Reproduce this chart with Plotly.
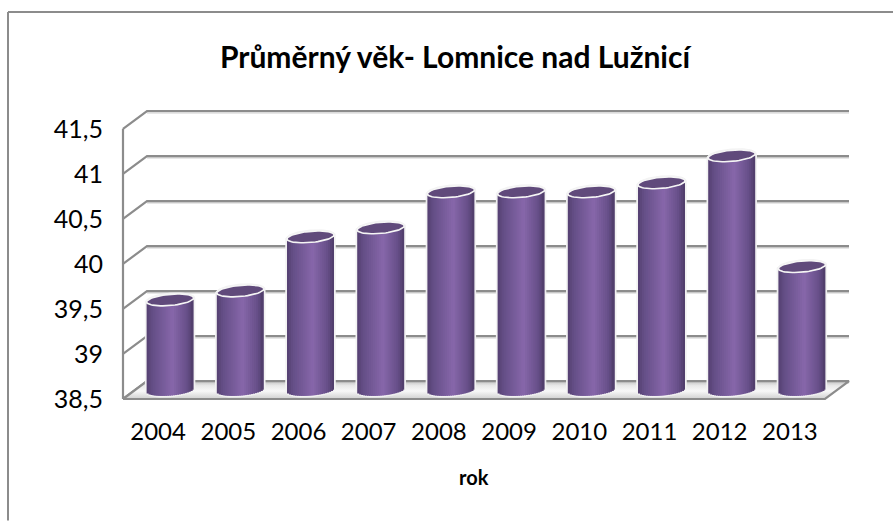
import math
import plotly.graph_objects as go

# ---- data ----
title_text = "Průměrný věk- Lomnice nad Lužnicí"
x_title = "rok"
years = [2004, 2005, 2006, 2007, 2008, 2009, 2010, 2011, 2012, 2013]
values = [39.5, 39.6, 40.2, 40.3, 40.7, 40.7, 40.7, 40.8, 41.1, 39.87]
y_ticks = [38.5, 39, 39.5, 40, 40.5, 41, 41.5]
y_tick_labels = ["38,5", "39", "39,5", "40", "40,5", "41", "41,5"]

# ---- geometry (pixels of the figure) ----
W, H = 893, 521
L, R, T, B = 123, 825, 129, 399.5          # front frame of the 3D box
DX, DY = 24, 17.8                          # depth of the box
PAD = 3
UX = (years[-1] - years[0] + 1) / (R - L)   # data units per px
UY = (y_ticks[-1] - y_ticks[0]) / (B - T)
DEPTH_X, DEPTH_Y = DX * UX, DY * UY
BAR_DX = 12 * UX
BASE_Y = y_ticks[0] + 9 * UY
A, Bb, TILT = 23.5, 5.6, 2.0                # cylinder half width, ellipse half height, tilt
N = 24
GRID = "#8c8c8c"
SHADOW = "#cfcfcf"
FONT = "Lato"
PL, PR, PT, PB = L - PAD, R + DX + PAD, T - DY - PAD, B + PAD   # plot area

STOPS = [(0.0, (84, 64, 112)), (0.12, (100, 78, 134)), (0.55, (135, 103, 170)),
         (0.85, (104, 80, 138)), (1.0, (78, 60, 104))]


def shade(f):
    for (f0, c0), (f1, c1) in zip(STOPS, STOPS[1:]):
        if f <= f1:
            k = (f - f0) / (f1 - f0)
            return "rgb(%d,%d,%d)" % tuple(round(a + (b - a) * k) for a, b in zip(c0, c1))
    return "rgb(%d,%d,%d)" % STOPS[-1][1]


def ellipse(cx, cy, rim=0.0, t0=0, t1=2 * math.pi, n=60):
    xs, ys = [], []
    for k in range(n + 1):
        t = t0 + (t1 - t0) * k / n
        c, s = math.cos(t), math.sin(t)
        xs.append(cx + (A + rim) * c * UX)
        ys.append(cy + (TILT * c + (Bb + rim) * s) * UY)
    return xs, ys


def px(x):
    return (x - PL) / (PR - PL)


def py(y):
    return (PB - y) / (PB - PT)


fig = go.Figure()

x0, x1 = years[0] - 0.5, years[-1] + 0.5
y0 = y_ticks[0]

# back wall grid shadow + grid + depth connectors
for v in y_ticks:
    fig.add_trace(go.Scatter(
        x=[x0 + DEPTH_X, x1 + DEPTH_X], y=[v + DEPTH_Y - 1.8 * UY] * 2,
        mode="lines", line=dict(color=SHADOW, width=1.2), hoverinfo="skip", showlegend=False))
for v in y_ticks:
    fig.add_trace(go.Scatter(
        x=[x0, x0 + DEPTH_X, x1 + DEPTH_X], y=[v, v + DEPTH_Y, v + DEPTH_Y],
        mode="lines", line=dict(color=GRID, width=2.2), hoverinfo="skip", showlegend=False))

# floor
fig.add_trace(go.Scatter(
    x=[x0, x1, x1 + DEPTH_X, x0 + DEPTH_X, x0],
    y=[y0, y0, y0 + DEPTH_Y, y0 + DEPTH_Y, y0],
    mode="lines", line=dict(color=GRID, width=2.2), fill="toself",
    fillgradient=dict(type="vertical", colorscale=[[0, "#d0d0d0"], [0.45, "#f8f8f8"], [0.75, "#e8e8e8"], [1, "#c4c4c4"]]),
    hoverinfo="skip", showlegend=False))

# front left edge of the box
fig.add_trace(go.Scatter(
    x=[x0, x0], y=[y_ticks[0], y_ticks[-1]], mode="lines",
    line=dict(color=GRID, width=2.2), hoverinfo="skip", showlegend=False))

# white silhouettes behind the cylinders
for yr, v in zip(years, values):
    cx = yr + BAR_DX
    top = BASE_Y + v - y0
    xa, ya = ellipse(cx, BASE_Y, 1.2, math.pi, 2 * math.pi)
    xb, yb = ellipse(cx, top, 1.2, 0, math.pi)
    fig.add_trace(go.Scatter(
        x=xa + xb + xa[:1], y=ya + yb + ya[:1], mode="lines",
        line=dict(color="#f2f2f2", width=1), fill="toself", fillcolor="#f2f2f2",
        hoverinfo="skip", showlegend=False))

# cylinder bodies: real bars, split in vertical strips for the shading
sw = 2 * A / N
for j in range(N):
    d = -A + (j + 0.5) * sw
    drop = Bb * math.sqrt(max(0, 1 - (d / A) ** 2)) - TILT * d / A
    base = [BASE_Y - drop * UY] * len(values)
    heights = [v - y0 for v in values]
    extra = 1.0 if j < N - 1 else 0.0
    fig.add_trace(go.Bar(
        x=years, y=heights, base=base,
        width=(sw + extra) * UX, offset=BAR_DX + (d - sw / 2) * UX,
        marker=dict(color=shade((j + 0.5) / N), line=dict(width=0)),
        xaxis="x2", yaxis="y2", hoverinfo="skip", showlegend=False))

# top caps
for yr, v in zip(years, values):
    xs, ys = ellipse(yr + BAR_DX, BASE_Y + v - y0)
    fig.add_trace(go.Scatter(
        x=xs, y=ys, mode="lines", line=dict(color="#f5f5f5", width=1.6),
        fill="toself", fillcolor="#604a7b",
        xaxis="x2", yaxis="y2",
        name=str(yr), hovertemplate="%{text}<extra></extra>",
        text=["%d: %s" % (yr, v)] * 61, showlegend=False))

axis_range_x = [x0 - PAD * UX, x1 + (DX + PAD) * UX]
axis_range_y = [y0 - PAD * UY, y_ticks[-1] + (DY + PAD) * UY]

fig.update_layout(
    width=W, height=H, autosize=False,
    margin=dict(l=PL, r=W - PR, t=PT, b=H - PB, pad=0),
    paper_bgcolor="white", plot_bgcolor="rgba(0,0,0,0)",
    barmode="overlay", showlegend=False,
    font=dict(family=FONT, color="black", size=24),
    title=dict(text="<b>%s</b>" % title_text, x=px(455), xanchor="center", xref="paper",
               y=1 - 57 / H, yanchor="middle", yref="container",
               font=dict(family=FONT, size=30, color="black")),
    xaxis=dict(range=axis_range_x, tickmode="array", tickvals=years, ticktext=[str(y) for y in years],
               showgrid=False, zeroline=False, showline=False,
               ticks="", ticklabelstandoff=13, tickfont=dict(family=FONT, size=24, color="black")),
    yaxis=dict(range=axis_range_y, tickmode="array", tickvals=y_ticks, ticktext=y_tick_labels,
               showgrid=False, zeroline=False, showline=False,
               ticks="", ticklabelstandoff=16, tickfont=dict(family=FONT, size=25, color="black")),
    xaxis2=dict(range=axis_range_x, overlaying="x", visible=False, matches="x"),
    yaxis2=dict(range=axis_range_y, overlaying="y", visible=False, matches="y"),
    annotations=[dict(text="<b>%s</b>" % x_title, xref="x", yref="paper",
                      x=(x0 + x1) / 2, y=py(478), xanchor="center", yanchor="middle",
                      showarrow=False, font=dict(family=FONT, size=20, color="black"))],
    shapes=[
        dict(type="line", xref="paper", yref="paper", x0=px(8), x1=px(W), y0=py(12), y1=py(12),
             line=dict(color=GRID, width=2)),
        dict(type="line", xref="paper", yref="paper", x0=px(8), x1=px(8), y0=py(12), y1=py(H),
             line=dict(color=GRID, width=2)),
    ],
)

fig.write_html("out.html", config=dict(displayModeBar=False),
               post_script="document.body.style.margin='0';document.documentElement.style.overflow='hidden';")
